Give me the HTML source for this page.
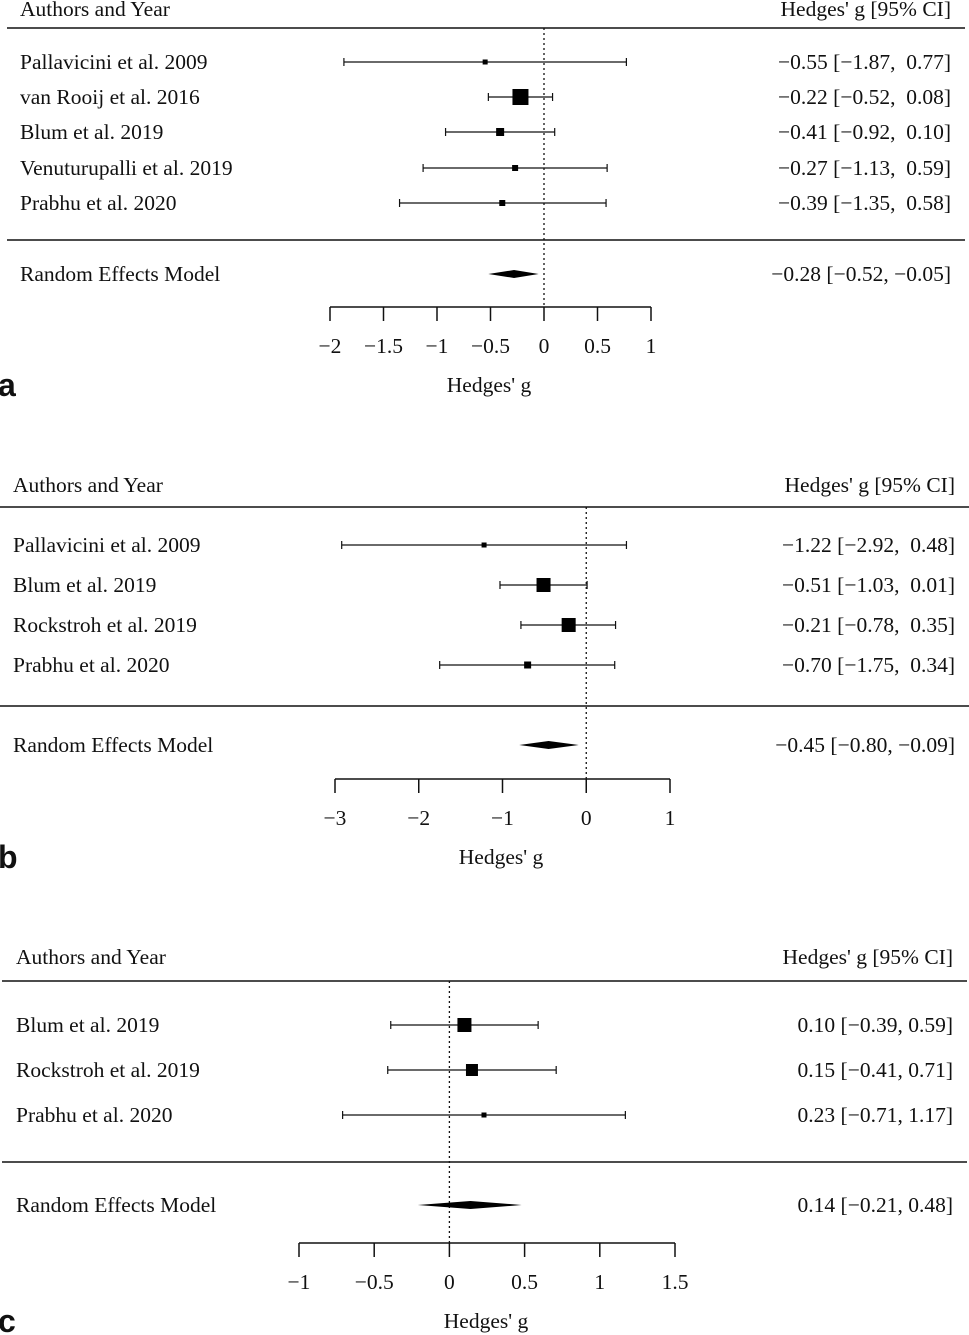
<!DOCTYPE html>
<html><head><meta charset="utf-8"><style>
body{margin:0;background:#fff;width:969px;height:1335px;overflow:hidden}
svg{display:block}
text{font-family:"Liberation Serif",serif;font-size:21.5px;fill:#111;white-space:pre}
.lab{font-family:"Liberation Sans","DejaVu Sans",sans-serif;font-weight:bold;font-size:32px}
</style></head><body>
<svg id="chart" width="969" height="1335" viewBox="0 0 969 1335"></svg>
<script>
// Panel a data
const aStudies=["Pallavicini et al. 2009","van Rooij et al. 2016","Blum et al. 2019","Venuturupalli et al. 2019","Prabhu et al. 2020"];
const aEst=[-0.55,-0.22,-0.41,-0.27,-0.39];
const aLo=[-1.87,-0.52,-0.92,-1.13,-1.35];
const aHi=[0.77,0.08,0.10,0.59,0.58];
const aSize=[5,16,8,6,6];
const aRE=[-0.28,-0.52,-0.05];
const aTicks=[-2,-1.5,-1,-0.5,0,0.5,1];
// Panel b data
const bStudies=["Pallavicini et al. 2009","Blum et al. 2019","Rockstroh et al. 2019","Prabhu et al. 2020"];
const bEst=[-1.22,-0.51,-0.21,-0.70];
const bLo=[-2.92,-1.03,-0.78,-1.75];
const bHi=[0.48,0.01,0.35,0.34];
const bSize=[5,14,14,7];
const bRE=[-0.45,-0.80,-0.09];
const bTicks=[-3,-2,-1,0,1];
// Panel c data
const cStudies=["Blum et al. 2019","Rockstroh et al. 2019","Prabhu et al. 2020"];
const cEst=[0.10,0.15,0.23];
const cLo=[-0.39,-0.41,-0.71];
const cHi=[0.59,0.71,1.17];
const cSize=[14,12,5];
const cRE=[0.14,-0.21,0.48];
const cTicks=[-1,-0.5,0,0.5,1,1.5];

const NS="http://www.w3.org/2000/svg";
const svg=document.getElementById('chart');
function mk(tag,attrs,parent,txt){const e=document.createElementNS(NS,tag);for(const k in attrs)e.setAttribute(k,attrs[k]);if(txt!==undefined)e.textContent=txt;(parent||svg).appendChild(e);return e;}
function f(v){return (v<0?"\u2212":"")+Math.abs(v).toFixed(2);}

function panel(P){
  const g=mk('g',{});
  
  
  const x=v=>P.x0+(v-P.v0)*(P.x1-P.x0)/(P.v1-P.v0);
  let t=mk('text',{x:P.lx,y:P.hy},g,"Authors and Year");
  
  t=mk('text',{x:P.rx,y:P.hy,'text-anchor':'end'},g,"Hedges' g [95% CI]");
  
  mk('line',{x1:P.l0,x2:P.l1,y1:P.hl,y2:P.hl,stroke:'#111','stroke-width':1.5},g);
  mk('line',{x1:P.l0,x2:P.l1,y1:P.sep,y2:P.sep,stroke:'#111','stroke-width':1.5},g);
  mk('line',{x1:x(0),x2:x(0),y1:P.hl,y2:P.ax,stroke:'#111','stroke-width':1.3,'stroke-dasharray':'2,3'},g);
  P.studies.forEach((s,i)=>{
    const y=P.rows[i];
    let e=mk('text',{x:P.lx,y:y+7},g,s);
    
    mk('line',{x1:x(P.lo[i]),x2:x(P.hi[i]),y1:y,y2:y,stroke:'#111','stroke-width':1.2},g);
    mk('line',{x1:x(P.lo[i]),x2:x(P.lo[i]),y1:y-4,y2:y+4,stroke:'#111','stroke-width':1.2},g);
    mk('line',{x1:x(P.hi[i]),x2:x(P.hi[i]),y1:y-4,y2:y+4,stroke:'#111','stroke-width':1.2},g);
    const sz=P.size[i];
    e=mk('rect',{x:x(P.est[i])-sz/2,y:y-sz/2,width:sz,height:sz,fill:'#000'},g);
    
    e=mk('text',{x:P.rx,y:y+7,'text-anchor':'end'},g,f(P.est[i])+" ["+f(P.lo[i])+", "+(P.hi[i]<0?"":P.pad)+f(P.hi[i])+"]");
    
  });
  const ry=P.re;
  let e=mk('text',{x:P.lx,y:ry+7},g,"Random Effects Model");
  
  e=mk('polygon',{points:`${x(P.reV[1])},${ry} ${x(P.reV[0])},${ry-4} ${x(P.reV[2])},${ry} ${x(P.reV[0])},${ry+4}`,fill:'#000'},g);
  
  e=mk('text',{x:P.rx,y:ry+7,'text-anchor':'end'},g,f(P.reV[0])+" ["+f(P.reV[1])+", "+f(P.reV[2])+"]");
  
  const tv=P.ticks.slice().sort((a,b)=>a-b);
  mk('line',{x1:x(tv[0]),x2:x(tv[tv.length-1]),y1:P.ax,y2:P.ax,stroke:'#111','stroke-width':1.5},g);
  tv.forEach(v=>{
    mk('line',{x1:x(v),x2:x(v),y1:P.ax,y2:P.ax+14,stroke:'#111','stroke-width':1.5},g);
    const l=mk('text',{x:x(v),y:P.ax+46,'text-anchor':'middle'},g,(v<0?"\u2212":"")+Math.abs(v));
    
  });
  e=mk('text',{x:P.tx,y:P.ax+85,'text-anchor':'middle'},g,"Hedges' g");
  
  e=mk('text',{x:-2,y:P.ax+89,'class':'lab'},g,P.id);
  
}
panel({id:'a',studies:aStudies,est:aEst,lo:aLo,hi:aHi,size:aSize,reV:aRE,ticks:aTicks,pad:" ",
  x0:330,x1:651,v0:-2,v1:1,lx:20,rx:951,hy:16,hl:28,l0:7,l1:965,sep:240,rows:[62,97,132,168,203],re:274,ax:307,tx:489});
panel({id:'b',studies:bStudies,est:bEst,lo:bLo,hi:bHi,size:bSize,reV:bRE,ticks:bTicks,pad:" ",
  x0:335,x1:670,v0:-3,v1:1,lx:13,rx:955,hy:492,hl:507,l0:0,l1:969,sep:706,rows:[545,585,625,665],re:745,ax:779,tx:501});
panel({id:'c',studies:cStudies,est:cEst,lo:cLo,hi:cHi,size:cSize,reV:cRE,ticks:cTicks,pad:"",
  x0:299,x1:675,v0:-1,v1:1.5,lx:16,rx:953,hy:964,hl:981,l0:2,l1:967,sep:1162,rows:[1025,1070,1115],re:1205,ax:1243,tx:486});
</script>
</body></html>
